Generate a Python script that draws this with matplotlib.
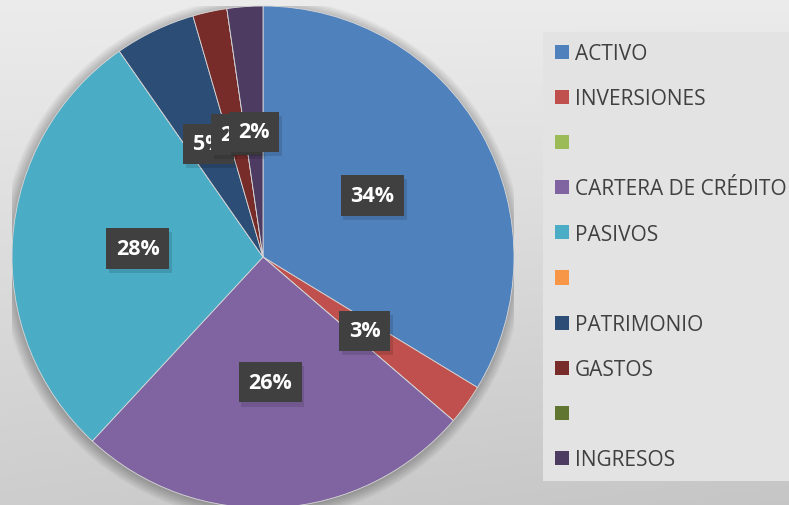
import numpy as np
import matplotlib.pyplot as plt
import matplotlib.patheffects as pe
from matplotlib.patches import Rectangle, Circle

categories = ["ACTIVO", "INVERSIONES", "", "CARTERA DE CRÉDITO", "PASIVOS", "",
              "PATRIMONIO", "GASTOS", "", "INGRESOS"]
values = [33.7, 2.6, 0, 25.6, 28.4, 0, 5.2, 2.2, 0, 2.3]
colors = ["#4f81bd", "#c0504d", "#9bbb59", "#8064a2", "#4bacc6", "#f79646",
          "#2c4d75", "#772c2a", "#5f7530", "#4d3b62"]

W, H = 789, 506
fig = plt.figure(figsize=(W / 100, H / 100), dpi=100)

# background gradient
bg = fig.add_axes([0, 0, 1, 1], zorder=-10)
yy, xx = np.mgrid[0:1:200j, 0:1:300j]
shade = 0.925 - 0.12 * yy - 0.03 * xx * yy
bg.imshow(np.dstack([shade] * 3), extent=[0, 1, 0, 1], aspect="auto", origin="upper")
bg.axis("off")

# legend panel
fig.patches.append(Rectangle((543 / W, 1 - 482 / H), (W - 543) / W, (482 - 33) / H,
                             transform=fig.transFigure, facecolor="#e3e3e3",
                             edgecolor="none", zorder=-5))

cx, cy, r = 263, 258, 251
ax = fig.add_axes([(cx - r) / W, (H - cy - r) / H, 2 * r / W, 2 * r / H])

# soft shadow under the pie
for k in range(8):
    ax.add_patch(Circle((-0.004, -0.008), 1.0 + 0.006 * k, color="black",
                        alpha=0.035, lw=0, zorder=0))

wedges, texts, autotexts = ax.pie(
    values, colors=colors, startangle=90, counterclock=False,
    autopct=lambda p: f"{p:.0f}%" if p > 0 else "", pctdistance=0.5,
    wedgeprops=dict(linewidth=0.6, edgecolor="#d8d8d8"),
    textprops=dict(color="white", fontsize=15.5, fontweight="bold", family="Open Sans"))

for v, t in zip(values, autotexts):
    if v == 0:
        t.set_visible(False)
        continue
    t.set_bbox(dict(boxstyle="square,pad=0.45", facecolor="#404040", edgecolor="none"))
    t.get_bbox_patch().set_path_effects([
        pe.SimplePatchShadow(offset=(2, -3), shadow_rgbFace="black", alpha=0.12),
        pe.Normal()])
    t.set_zorder(5)

ax.set_xlim(-1, 1)
ax.set_ylim(-1, 1)
ax.set_aspect("equal")
ax.axis("off")

handles = [Rectangle((0, 0), 1, 1, facecolor=c, edgecolor="none") for c in colors]
fig.legend(handles, categories, loc="upper left",
           bbox_to_anchor=(555 / W, 1 - 44 / H), frameon=False,
           prop=dict(family="Open Sans", size=15), labelcolor="#404040",
           handlelength=0.67, handleheight=0.67, handletextpad=0.3,
           labelspacing=1.16, borderpad=0, borderaxespad=0)

fig.savefig("out.png", dpi=100)
